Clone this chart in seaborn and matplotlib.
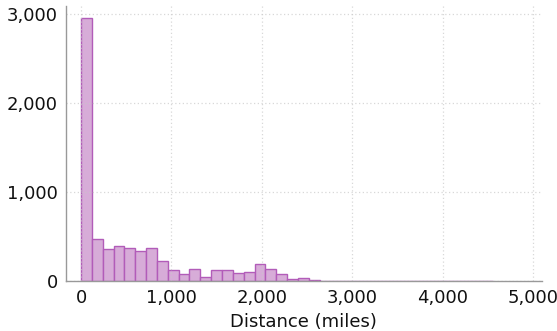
import numpy as np
import pandas as pd
import matplotlib
matplotlib.use("Agg")
import matplotlib.pyplot as plt
from matplotlib.ticker import FuncFormatter
import seaborn as sns

# Histogram of flight distances, binned in 120-mile steps
bin_width = 120
counts = [2960, 469, 360, 394, 372, 334, 368, 230, 124, 75,
          139, 49, 118, 129, 85, 96, 186, 139, 80, 26,
          36, 11, 4, 3, 2, 0, 2, 2, 4, 0,
          0, 0, 0, 2, 2, 0, 2, 2]
x_ticks = [0, 1000, 2000, 3000, 4000, 5000]
y_ticks = [0, 1000, 2000, 3000]

n_bins = len(counts)
df = pd.DataFrame({"distance": np.arange(n_bins) * bin_width + bin_width / 2,
                   "count": counts})

sns.set_style("white")
plt.rcParams["font.family"] = ["DejaVu Sans"]

fig = plt.figure(figsize=(5.57, 3.31), dpi=100)
ax = fig.add_axes([66 / 557, 50 / 331, (541.7 - 66) / 557, (281 - 6) / 331])

sns.histplot(data=df, x="distance", weights="count",
             binwidth=bin_width, binrange=(0, n_bins * bin_width),
             color="#d7acd8", edgecolor="#b25cb9", linewidth=1.0,
             alpha=1.0, ax=ax)

ax.set_xlim(-166, 5096)
ax.set_ylim(0, 3090)
ax.set_xticks(x_ticks)
ax.set_yticks(y_ticks)
fmt = FuncFormatter(lambda v, p: f"{int(v):,}")
ax.xaxis.set_major_formatter(fmt)
ax.yaxis.set_major_formatter(fmt)

# light dotted grid drawn over the bars
ax.grid(True, linestyle=(0, (1, 2)), color="#c8c8c8", linewidth=0.9, alpha=0.7)
ax.set_axisbelow(False)

for side in ("top", "right"):
    ax.spines[side].set_visible(False)
for side in ("left", "bottom"):
    ax.spines[side].set_color("#999999")
    ax.spines[side].set_linewidth(1.0)
    ax.spines[side].set_zorder(3)

ax.tick_params(axis="both", which="major", length=4, width=1,
               color="#999999", labelsize=13, labelcolor="#111111", pad=2)
ax.set_xlabel("Distance (miles)", fontsize=13, color="#111111", labelpad=4)
ax.set_ylabel("")

fig.savefig("out.png", dpi=100)
